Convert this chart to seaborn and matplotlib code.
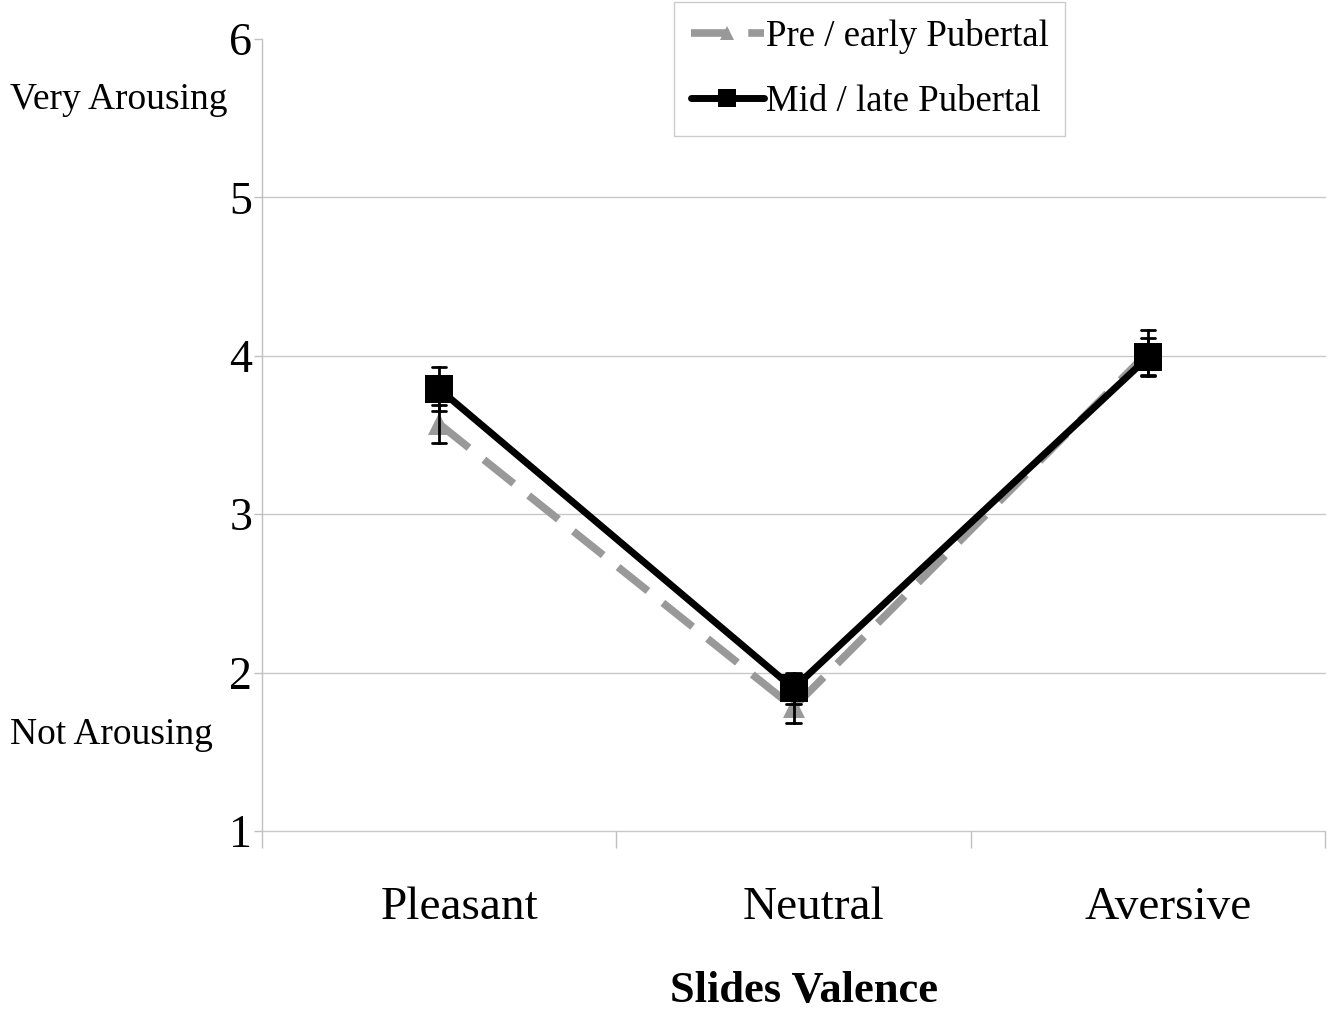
import matplotlib
matplotlib.use('Agg')
import matplotlib.pyplot as plt
import matplotlib.transforms as mtrans
from matplotlib.lines import Line2D
from matplotlib.ticker import FixedLocator
import seaborn as sns
import pandas as pd

# ---- data ----
categories = ["Pleasant", "Neutral", "Aversive"]
groups = ["Pre / early Pubertal", "Mid / late Pubertal"]
pre_means = [3.57, 1.78, 4.02]
pre_err = [0.12, 0.10, 0.14]
mid_means = [3.79, 1.90, 3.99]
mid_err = [0.14, 0.10, 0.12]
yticks = [1, 2, 3, 4, 5, 6]

sns.set_style("white")
plt.rcParams["font.family"] = ["Liberation Serif", "DejaVu Serif"]
plt.rcParams["text.color"] = "black"
plt.rcParams["xtick.color"] = "black"
plt.rcParams["ytick.color"] = "black"
plt.rcParams["axes.labelcolor"] = "black"

rows = []
for g, means, errs in [(groups[0], pre_means, pre_err), (groups[1], mid_means, mid_err)]:
    for c, m, e in zip(categories, means, errs):
        for v in (m - e, m, m + e):
            rows.append({"group": g, "valence": c, "arousal": v})
df = pd.DataFrame(rows)

fig = plt.figure(figsize=(13.37, 10.11), dpi=100)
ax = fig.add_axes([262 / 1337, 180 / 1011, 1063 / 1337, 792 / 1011])

grey = "#999999"
styles = {
    groups[0]: dict(color=grey, marker="^", markersize=16, markeredgewidth=0,
                    linestyle=(0, (5, 2.5)), linewidth=5.5, zorder=2),
    groups[1]: dict(color="black", marker="s", markersize=20, markeredgewidth=0,
                    linestyle="-", linewidth=5, zorder=3),
}
for g in groups:
    sns.pointplot(data=df[df.group == g], x="valence", y="arousal", order=categories,
                  estimator="median", errorbar=lambda v: (v.min(), v.max()),
                  capsize=0.04, err_kws={"color": "black", "linewidth": 2},
                  ax=ax, **styles[g])

ax.set_xlim(-0.5, 2.5)
ax.set_ylim(1, 6)
ax.set_yticks(yticks)
ax.set_yticklabels([str(t) for t in yticks], fontsize=33)
ax.tick_params(axis="y", length=6, width=1, color="#c0c0c0", labelcolor="black", pad=1, left=True)

# grid lines 1..5
for t in yticks[:-1]:
    ax.axhline(t, color="#c8c8c8", linewidth=1, zorder=0, clip_on=False)

ax.xaxis.set_minor_locator(FixedLocator([-0.5, 0.5, 1.5, 2.5]))
ax.tick_params(axis="x", which="minor", length=12, width=1, color="#c0c0c0", bottom=True)
ax.tick_params(axis="x", which="major", length=0, pad=40, labelsize=34, labelcolor="black")
offset = mtrans.ScaledTranslation(20 / 100, 0, fig.dpi_scale_trans)
for lab in ax.get_xticklabels():
    lab.set_transform(lab.get_transform() + offset)

ax.set_xlabel("Slides Valence", fontsize=32, fontweight="bold", color="black")
ax.xaxis.set_label_coords(0.51, -0.177)
ax.set_ylabel("")

for s in ["top", "right", "bottom"]:
    ax.spines[s].set_visible(False)
ax.spines["left"].set_color("#c0c0c0")
ax.spines["left"].set_linewidth(1)

fig.text(10 / 1337, 1 - 100 / 1011, "Very Arousing", fontsize=27, va="center", ha="left")
fig.text(10 / 1337, 1 - 735 / 1011, "Not Arousing", fontsize=27, va="center", ha="left")

handles = [
    Line2D([0], [0], color=grey, linestyle=(0, (5, 2.5)), linewidth=5.5, marker="^",
           markersize=10, markeredgewidth=0),
    Line2D([0], [0], color="black", linestyle="-", linewidth=5, marker="s",
           markersize=13, markeredgewidth=0),
]
leg = fig.legend(handles, groups, loc="upper left", bbox_to_anchor=(674 / 1337, 0.998),
                 frameon=True, fancybox=False, edgecolor="#c0c0c0", fontsize=26.5,
                 handlelength=2.0, handletextpad=0.05, labelspacing=0.85,
                 borderpad=0.45, borderaxespad=0)
leg.get_frame().set_linewidth(1)

fig.savefig("out.png", dpi=100, facecolor="white")
